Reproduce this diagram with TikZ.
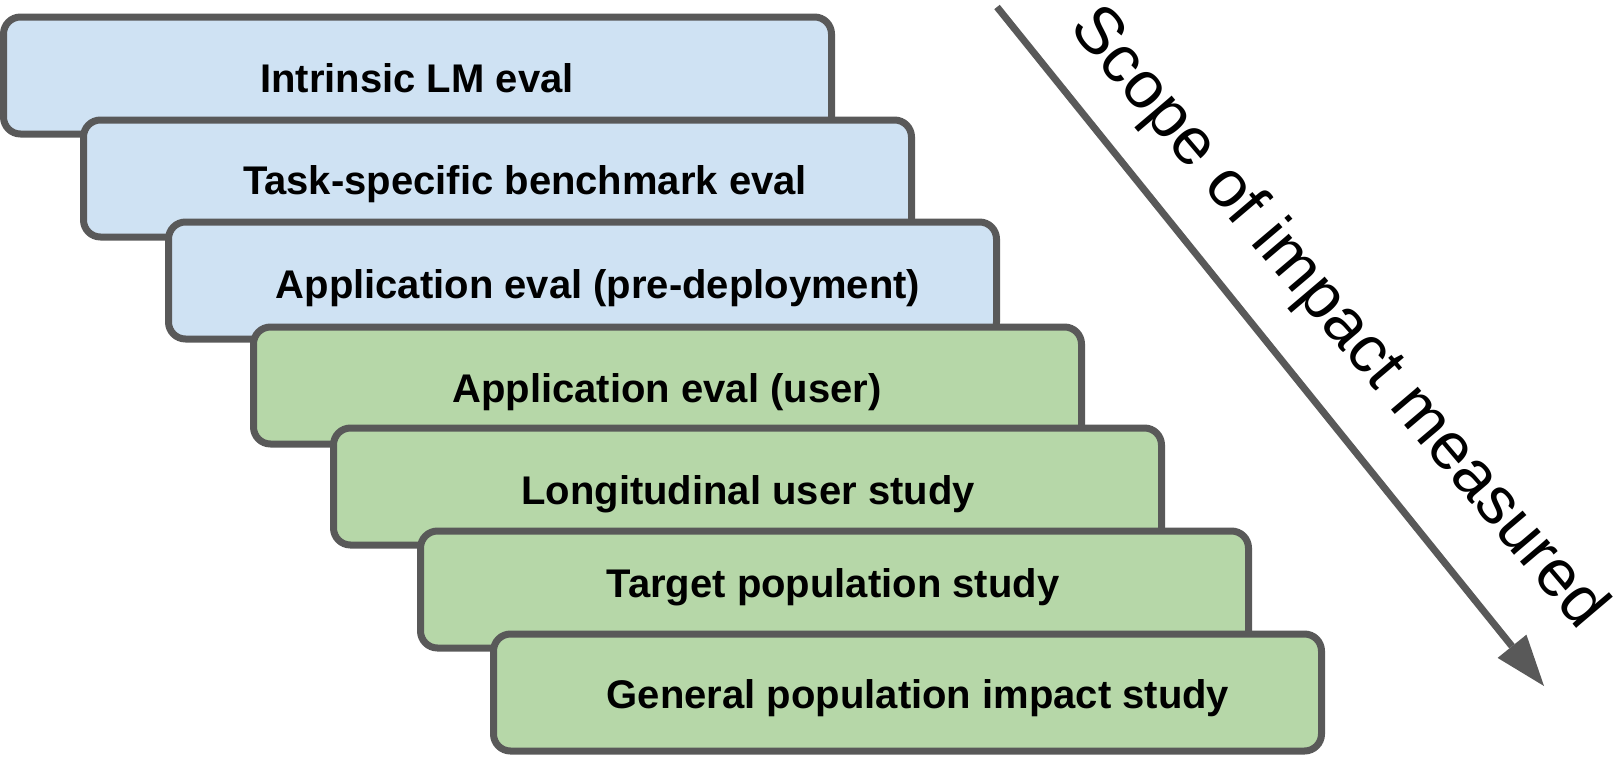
\documentclass[tikz,border=0pt]{standalone}
\usepackage{fontspec}
\setmainfont{Liberation Sans}
\usetikzlibrary{arrows.meta}
\definecolor{edgegray}{HTML}{595959}
\definecolor{labblue}{HTML}{CFE2F3}
\definecolor{fieldgreen}{HTML}{B6D7A8}
\begin{document}
\begin{tikzpicture}[x=1pt,y=-1pt,
  stage/.style={draw=edgegray, line width=7pt, rounded corners=17pt,
    rectangle, minimum width=828pt, minimum height=117pt, inner sep=0pt},
  lab/.style={stage, fill=labblue},
  field/.style={stage, fill=fieldgreen},
  stagetext/.style={font=\fontsize{40}{48}\selectfont\bfseries,
    inner sep=0pt, anchor=base},
  scopetext/.style={font=\fontsize{66.5}{80}\selectfont,
    inner sep=0pt, anchor=base, rotate=-49.7}]
\useasboundingbox (0,0) rectangle (1617,758);

% stacked evaluation stages, each drawn over the previous one
\node[lab] (s1) at (417.5,75.5) {};
\node[stagetext] (t1) at (417,92) {Intrinsic LM eval};
\node[lab] (s2) at (497.5,178.5) {};
\node[stagetext] (t2) at (525,194) {Task-specific benchmark eval};
\node[lab] (s3) at (582.5,280.5) {};
\node[stagetext] (t3) at (598,298) {Application eval (pre-deployment)};
\node[field] (s4) at (667.5,385.5) {};
\node[stagetext] (t4) at (667,402) {Application eval (user)};
\node[field] (s5) at (747.5,486.5) {};
\node[stagetext] (t5) at (748,504) {Longitudinal user study};
\node[field] (s6) at (834.5,589.5) {};
\node[stagetext] (t6) at (833,597) {Target population study};
\node[field] (s7) at (907.5,692.5) {};
\node[stagetext] (t7) at (918,708) {General population impact study};

% scope arrow
\coordinate (a0) at (997,7);
\coordinate (a1) at (1544,686);
\draw[edgegray, line width=7pt,
  -{Triangle[length=51pt, width=37pt, line width=0pt]}] (a0) -- (a1);
\node[scopetext] (scope) at (1324,330) {Scope of impact measured};
\end{tikzpicture}
\end{document}
